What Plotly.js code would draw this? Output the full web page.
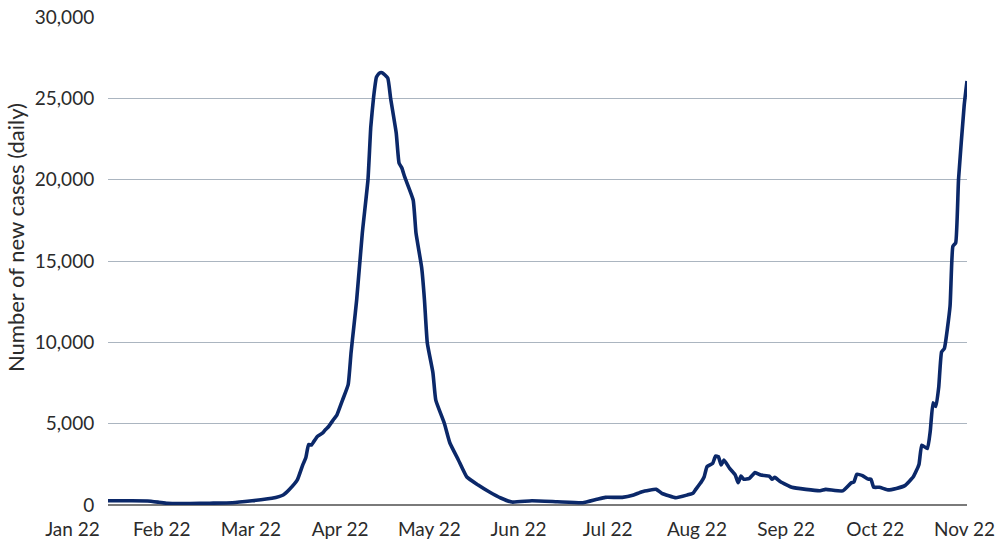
<!DOCTYPE html>
<html>
<head>
<meta charset="utf-8">
<script src="https://cdn.plot.ly/plotly-3.0.1.min.js"></script>
<style>html,body{margin:0;padding:0;background:#fff;}#chart{width:1000px;height:551px;}</style>
</head>
<body>
<div id="chart"></div>
<script>
// Daily new cases
const dates = [
  "2022-01-01","2022-01-09","2022-01-15","2022-01-19","2022-01-22","2022-01-30",
  "2022-02-06","2022-02-14","2022-02-21","2022-02-28",
  "2022-03-04","2022-03-06","2022-03-09","2022-03-11","2022-03-12","2022-03-13","2022-03-14","2022-03-16","2022-03-18","2022-03-19","2022-03-20","2022-03-22","2022-03-23","2022-03-25","2022-03-27","2022-03-28","2022-03-29","2022-03-30",
  "2022-04-01","2022-04-03","2022-04-04","2022-04-05","2022-04-06","2022-04-07","2022-04-08","2022-04-10","2022-04-11","2022-04-13","2022-04-14","2022-04-15","2022-04-16","2022-04-19","2022-04-20","2022-04-22","2022-04-23","2022-04-24","2022-04-26","2022-04-27","2022-04-30",
  "2022-05-02","2022-05-05","2022-05-08","2022-05-12","2022-05-16","2022-05-20","2022-05-24","2022-05-31",
  "2022-06-09","2022-06-18","2022-06-23","2022-06-26",
  "2022-07-02","2022-07-06","2022-07-09","2022-07-14","2022-07-16","2022-07-21","2022-07-25","2022-07-27","2022-07-28","2022-07-30","2022-07-31",
  "2022-08-01","2022-08-03","2022-08-04","2022-08-05","2022-08-06","2022-08-07","2022-08-09","2022-08-11","2022-08-12","2022-08-13","2022-08-14","2022-08-16","2022-08-18","2022-08-20","2022-08-23","2022-08-24","2022-08-25","2022-08-27","2022-08-31",
  "2022-09-05","2022-09-10","2022-09-12","2022-09-18","2022-09-21","2022-09-22","2022-09-23","2022-09-25","2022-09-27","2022-09-28","2022-09-29",
  "2022-10-01","2022-10-04","2022-10-07","2022-10-10","2022-10-13","2022-10-15","2022-10-16","2022-10-18","2022-10-19","2022-10-20","2022-10-21","2022-10-22","2022-10-23","2022-10-24","2022-10-26","2022-10-27","2022-10-28","2022-10-29","2022-10-31",
  "2022-11-01"
];
const newCases = [
  260,260,250,170,100,90,
  110,140,260,410,
  615,920,1540,2500,2900,3720,3690,4200,4430,4640,4810,5300,5530,6450,7400,9340,10960,12600,
  16720,19980,23240,25080,26300,26550,26580,26250,25020,22870,21030,20720,20170,18750,16720,14600,12600,9960,8120,6450,5040,
  3810,2770,1720,1230,800,430,180,260,
  200,140,350,470,
  470,615,820,960,720,450,615,720,960,1430,1740,
  2360,2560,3010,2970,2460,2770,2250,1840,1370,1780,1580,1640,1990,1840,1780,1580,1700,1430,1090,
  960,880,960,870,1360,1410,1890,1800,1590,1590,1090,
  1090,930,1020,1190,1730,2490,3680,3470,4550,6280,6060,7250,9410,9630,12230,15900,16120,20010,24560,
  26070
];
const monthLabels = ["Jan 22","Feb 22","Mar 22","Apr 22","May 22","Jun 22","Jul 22","Aug 22","Sep 22","Oct 22","Nov 22"];
const monthPos = monthLabels.map((_, i) => i);
const yTicks = [0, 5000, 10000, 15000, 20000, 25000, 30000];
const yTitle = "Number of new cases (daily)";

const FONT = "Lato, 'Open Sans', sans-serif";
const TXT = "#2b2b2b";

const traces = [
  {
    x: monthPos, y: monthPos.map(() => null), xaxis: "x2", yaxis: "y2",
    type: "scatter", mode: "lines", hoverinfo: "skip", showlegend: false
  },
  {
    x: dates, y: newCases, type: "scatter", mode: "lines",
    line: {color: "#0b2869", width: 3.6, shape: "spline", smoothing: 0.4},
    hoverinfo: "x+y", showlegend: false
  }
];

const layout = {
  width: 1000, height: 551,
  margin: {l: 0, r: 0, t: 0, b: 0},
  paper_bgcolor: "#ffffff", plot_bgcolor: "rgba(0,0,0,0)",
  font: {family: FONT, size: 18, color: TXT},
  showlegend: false,
  xaxis: {
    type: "date", domain: [0.108, 0.967],
    range: ["2022-01-01", "2022-11-01"],
    showticklabels: false, showgrid: false, zeroline: false, showline: false, ticks: ""
  },
  yaxis: {
    domain: [0.0835, 0.9691], range: [0, 30000],
    tickvals: yTicks, tickformat: ",",
    tickfont: {family: FONT, size: 19, color: TXT},
    showgrid: true, gridcolor: "#abb5c0", gridwidth: 1,
    zeroline: true, zerolinecolor: "#7a7a7a", zerolinewidth: 1.5,
    showline: false, ticks: "outside", ticklen: 9, tickcolor: "rgba(0,0,0,0)",
    automargin: false
  },
  xaxis2: {
    domain: [0, 1], range: [-0.8128, 10.398], anchor: "y2",
    tickvals: monthPos, ticktext: monthLabels,
    tickfont: {family: FONT, size: 19, color: TXT},
    showgrid: false, zeroline: false, showline: false,
    ticks: "outside", ticklen: 7, tickcolor: "rgba(0,0,0,0)", automargin: false
  },
  yaxis2: {
    domain: [0.0835, 0.9691], range: [0, 1], anchor: "x2", visible: false, fixedrange: true
  },
  annotations: [{
    text: yTitle, xref: "paper", yref: "paper", x: 0.015, y: 0.568,
    xanchor: "center", yanchor: "middle", textangle: -90, showarrow: false,
    font: {family: FONT, size: 22, color: TXT}
  }]
};

Plotly.newPlot("chart", traces, layout, {displayModeBar: false, staticPlot: true});
</script>
</body>
</html>
